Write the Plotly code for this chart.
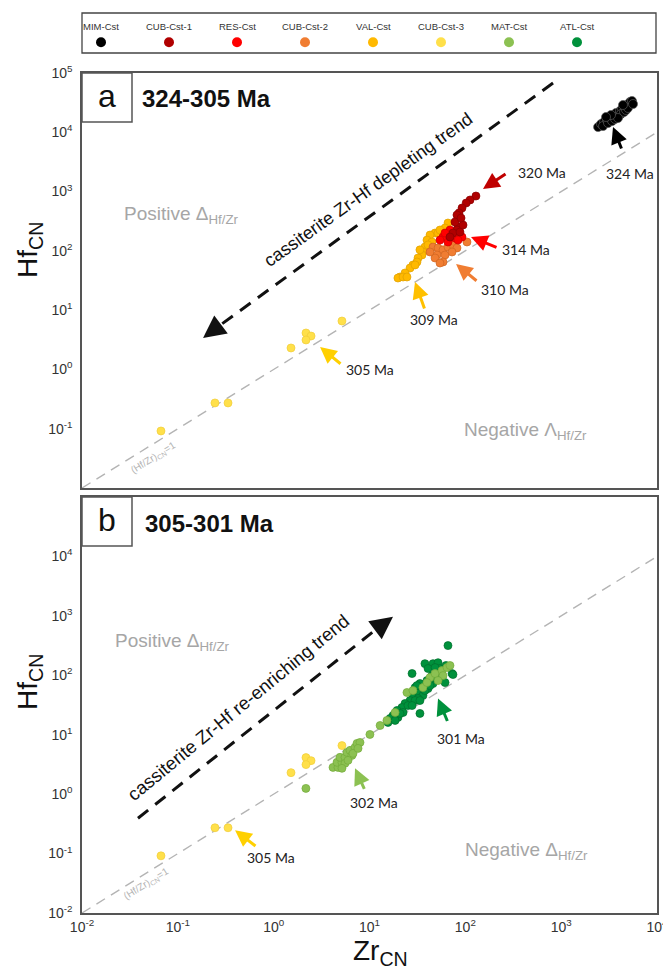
import plotly.graph_objects as go

W, H = 663, 973

# ---------------- data ----------------
series_names = ["MIM-Cst", "CUB-Cst-1", "RES-Cst", "CUB-Cst-2", "VAL-Cst", "CUB-Cst-3", "MAT-Cst", "ATL-Cst"]
series_colors = ["#000000", "#B00000", "#FF0000", "#F07D32", "#FFB900", "#FFE04A", "#8CC152", "#00913C"]
series_edges = ["#5A5A5A", "#8A0000", "#D00000", "#D06420", "#E0A000", "#F0CD3A", "#72AA3A", "#006E2C"]

mim_zr = [2427, 2606, 2800, 2735, 3006, 3236, 3083, 3396, 3557, 3733, 3648, 4018, 4111, 4315,
          4207, 4529, 4634, 4864, 4753, 5105, 5224, 5483, 4977, 3917, 3311, 2938, 5623, 4416]
mim_hf = [12270, 13800, 14930, 12760, 16110, 17410, 14350, 15490, 18830, 21150, 16750, 19580, 22860, 24720,
          20340, 21980, 26730, 28840, 23770, 29990, 32430, 33730, 25700, 17410, 19580, 18110, 29990, 28840]

cub1_zr = [129, 112, 102, 92.3, 85.9, 81.8, 83.9, 81.8, 74.3, 87.9, 69.2, 94.6, 78.0, 90.2]
cub1_hf = [841, 721, 641, 528, 436, 403, 253, 225, 200, 208, 171, 273, 307, 358]

res_zr = [72.6, 64.4, 58.5, 78.0, 92.3, 65.9, 54.4, 83.9, 69.2, 61.4]
res_hf = [185, 165, 171, 165, 171, 141, 152, 152, 225, 200]

cub2_zr = [46.0, 51.9, 58.5, 65.9, 74.3, 81.8, 50.6, 61.4, 72.6, 48.3, 58.5, 54.4, 104, 42.8]
cub2_hf = [116, 112, 104, 116, 126, 112, 85.2, 85.2, 95.7, 75.8, 64.9, 62.4, 141, 95.7]

val_zr = [65.9, 61.4, 48.3, 42.8, 51.9, 39.8, 44.9, 37.9, 36.1, 35.3, 32.1, 31.3, 28.4, 26.5,
          23.5, 20.8, 19.8, 22.4, 24.6, 29.9, 54.4, 40.8, 33.6]
val_hf = [295, 243, 200, 185, 200, 152, 141, 116, 95.7, 85.2, 75.8, 64.9, 57.8, 51.4,
          42.4, 36.2, 34.8, 36.2, 36.2, 57.8, 225, 126, 104]

cub3_zr = [0.0667, 0.244, 0.334, 1.517, 2.174, 2.455, 2.174, 5.16]
cub3_hf = [0.0916, 0.272, 0.272, 2.30, 4.12, 3.66, 3.14, 6.56]

mat_zr = [2.17, 4.16, 4.69, 4.58, 5.16, 4.92, 5.55, 5.82, 6.26, 6.56, 7.06, 7.41, 7.96, 5.55, 5.16, 5.97,
          6.73, 7.59, 10.1, 15.2, 12.9, 18.5, 24.6, 28.4, 36.1, 42.8, 48.3, 57.1, 64.4, 69.2, 58.5, 51.9, 39.8]
mat_hf = [1.25, 2.82, 2.82, 3.43, 3.43, 4.16, 4.16, 5.04, 5.45, 4.49, 6.11, 7.14, 7.41, 3.30, 2.72, 3.70,
          4.85, 5.89, 10.1, 17.4, 14.3, 23.7, 51.3, 55.4, 62.2, 91.6, 107, 120, 135, 146, 98.9, 81.5, 75.5]

atl_zr = [65.9, 37.9, 46.0, 51.9, 40.8, 50.6, 27.8, 44.9, 39.8, 33.6, 29.9, 36.1, 32.1, 28.4, 26.5, 23.5,
          21.8, 19.4, 22.4, 17.6, 19.8, 16.4, 15.6, 33.6, 31.3, 57.1, 46.0, 40.8, 36.1, 32.1, 72.6, 61.4,
          54.4, 48.3, 74.3, 25.2, 20.8, 29.9, 37.9, 42.8, 49.4, 55.7, 62.8, 33.6, 27.8, 18.5]
atl_hf = [316, 157, 157, 163, 130, 111, 107, 98.9, 81.5, 72.6, 62.2, 55.4, 49.3, 42.3, 37.6, 33.5,
          28.7, 25.6, 23.7, 21.1, 19.5, 18.8, 16.1, 22.8, 67.1, 91.6, 72.6, 59.8, 45.6, 40.6, 107, 75.5,
          130, 135, 103, 31.0, 22.8, 37.6, 55.4, 67.1, 88.1, 111, 146, 37.6, 31.0, 17.4]

ref_line = [0.01, 10000]  # (Hf/Zr)CN = 1

tick_vals = [0.01, 0.1, 1, 10, 100, 1000, 10000, 100000]
tick_text = ["10<sup>-2</sup>", "10<sup>-1</sup>", "10<sup>0</sup>", "10<sup>1</sup>", "10<sup>2</sup>",
             "10<sup>3</sup>", "10<sup>4</sup>", "10<sup>5</sup>"]

# age labels: (text, log10 Zr, log10 Hf, tail x, tail y, tip x, tip y, colour)
ages_a = [
    ("324 Ma", 3.718, 3.313, 3.635, 3.701, 3.541, 4.089, "#000000"),
    ("320 Ma", 2.800, 3.330, 2.435, 3.313, 2.184, 3.044, "#C00000"),
    ("314 Ma", 2.633, 2.015, 2.341, 2.048, 2.059, 2.234, "#FF0000"),
    ("310 Ma", 2.414, 1.340, 2.132, 1.475, 1.903, 1.779, "#F07D32"),
    ("309 Ma", 1.673, 0.834, 1.579, 1.003, 1.475, 1.475, "#FFC000"),
    ("305 Ma", 1.005, -0.009, 0.713, 0.075, 0.484, 0.379, "#FFD000"),
]
ages_b = [
    ("301 Ma", 1.955, 0.938, 1.819, 1.206, 1.715, 1.609, "#00913C"),
    ("302 Ma", 1.047, -0.137, 0.953, 0.065, 0.849, 0.434, "#8CC152"),
    ("305 Ma", -0.028, -1.060, -0.174, -0.892, -0.403, -0.607, "#FFD000"),
]

FONT = "Liberation Sans, Arial, sans-serif"
GREY = "#A6A6A6"

def px_x(p):
    return p / W

def px_y(p):
    return 1 - p / H

fig = go.Figure()

def add_series(idx, zr, hf, xa, ya, size=8):
    fig.add_trace(go.Scatter(
        x=zr, y=hf, mode="markers", xaxis=xa, yaxis=ya, showlegend=False,
        marker=dict(size=size, color=series_colors[idx],
                    line=dict(color=series_edges[idx], width=0.7)),
        hoverinfo="x+y", name=series_names[idx]))

# reference lines
for xa, ya in (("x", "y"), ("x2", "y2")):
    fig.add_trace(go.Scatter(x=ref_line, y=ref_line, mode="lines", xaxis=xa, yaxis=ya,
                             showlegend=False, hoverinfo="skip",
                             line=dict(color="#B4B4B4", width=1.4, dash="10px,7px")))

# panel a
add_series(5, cub3_zr, cub3_hf, "x", "y")
add_series(4, val_zr, val_hf, "x", "y")
add_series(3, cub2_zr, cub2_hf, "x", "y")
add_series(2, res_zr, res_hf, "x", "y")
add_series(1, cub1_zr, cub1_hf, "x", "y")
add_series(0, mim_zr, mim_hf, "x", "y", size=9)
# panel b
add_series(5, cub3_zr, cub3_hf, "x2", "y2")
add_series(7, atl_zr, atl_hf, "x2", "y2")
add_series(6, mat_zr, mat_hf, "x2", "y2")

# legend as its own little axis
fig.add_trace(go.Scatter(
    x=list(range(len(series_names))), y=[0.27] * len(series_names),
    mode="markers", marker=dict(size=10, color=series_colors, line=dict(width=0)),
    xaxis="x3", yaxis="y3", showlegend=False, hoverinfo="skip"))

xdom = [px_x(82), px_x(657)]
ax_common = dict(type="log", showgrid=False, zeroline=False, showline=True, mirror=True, automargin=False,
                 linecolor="#555555", linewidth=1.5, ticks="", tickvals=tick_vals, ticktext=tick_text,
                 ticklabeloverflow="allow",
                 tickfont=dict(family=FONT, size=14, color="#333333"))

fig.update_layout(
    template="none", autosize=False,
    width=W, height=H, margin=dict(l=0, r=0, t=0, b=0, pad=0),
    paper_bgcolor="white", plot_bgcolor="white",
    xaxis=dict(ax_common, domain=xdom, range=[-2, 4], anchor="y", showticklabels=False),
    yaxis=dict(ax_common, domain=[px_y(488), px_y(73)], range=[-2, 5], anchor="x",
               ticklabelstandoff=5, tickvals=tick_vals[1:], ticktext=tick_text[1:]),
    xaxis2=dict(ax_common, domain=xdom, range=[-2, 4], anchor="y2", ticklabelstandoff=0,
                tickvals=tick_vals[:-1], ticktext=tick_text[:-1]),
    yaxis2=dict(ax_common, domain=[px_y(913), px_y(497)], range=[-2, 5], anchor="x2",
                ticklabelstandoff=5, tickvals=tick_vals[:-1], ticktext=tick_text[:-1]),
    xaxis3=dict(domain=[0, 1], range=[-101 / 68, (663 - 101) / 68], visible=False, fixedrange=True,
                automargin=False),
    yaxis3=dict(domain=[px_y(53), px_y(13)], range=[0, 1], visible=False, fixedrange=True,
                automargin=False),
)

shapes = []
annotations = []

# legend box + legend labels
shapes.append(dict(type="rect", xref="paper", yref="paper", x0=px_x(82), x1=px_x(656),
                   y0=px_y(53), y1=px_y(13), line=dict(color="#444444", width=1.3), layer="below"))
for i, name in enumerate(series_names):
    annotations.append(dict(xref="x3", yref="paper", x=i, y=px_y(27), text=name, showarrow=False,
                            xanchor="center", yanchor="middle",
                            font=dict(family=FONT, size=9.5, color="#333333")))

# panel label boxes
for top, letter, title, tx, ty in ((73, "a", "324-305 Ma", 140, 98), (497, "b", "305-301 Ma", 143, 523)):
    shapes.append(dict(type="rect", xref="paper", yref="paper", x0=px_x(82), x1=px_x(132),
                       y0=px_y(top + 49), y1=px_y(top), line=dict(color="#555555", width=1.5),
                       fillcolor="white"))
    annotations.append(dict(xref="paper", yref="paper", x=px_x(107), y=px_y(top + 23), text=letter,
                            showarrow=False, xanchor="center", yanchor="middle",
                            font=dict(family=FONT, size=32, color="#111111")))
    annotations.append(dict(xref="paper", yref="paper", x=px_x(tx), y=px_y(ty), text="<b>%s</b>" % title,
                            showarrow=False, xanchor="left", yanchor="middle",
                            font=dict(family=FONT, size=24, color="#111111")))

# trend arrows (positions in log10 units)
trend = [
    ("x", "y", (2.915, 4.831), (-0.570, 0.733), (-0.737, 0.530),
     "cassiterite Zr-Hf depleting trend", 0.985, 3.02, -35.5, 18),
    ("x2", "y2", (-1.416, -0.405), (1.078, 2.784), (1.245, 2.986),
     "cassiterite Zr-Hf re-enriching trend", -0.370, 1.455, -39.5, 18.5),
]
for xa, ya, p0, p1, tip, txt, tx, ty, ang, fs in trend:
    fig.add_trace(go.Scatter(x=[10 ** p0[0], 10 ** p1[0]], y=[10 ** p0[1], 10 ** p1[1]], mode="lines",
                             xaxis=xa, yaxis=ya, showlegend=False, hoverinfo="skip",
                             line=dict(color="#111111", width=3, dash="13px,9px")))
    annotations.append(dict(xref=xa, yref=ya, axref=xa, ayref=ya, x=tip[0], y=tip[1],
                            ax=p1[0], ay=p1[1], text="", showarrow=True, arrowhead=2,
                            arrowsize=1.5, arrowwidth=3, arrowcolor="#111111", standoff=0))
    annotations.append(dict(xref=xa, yref=ya, x=tx, y=ty, text=txt, showarrow=False, textangle=ang,
                            xanchor="center", yanchor="middle",
                            font=dict(family=FONT, size=fs, color="#111111")))

# age labels and arrows
for xa, ya, ages in (("x", "y", ages_a), ("x2", "y2", ages_b)):
    for txt, lx, ly, tx0, ty0, tx1, ty1, col in ages:
        annotations.append(dict(xref=xa, yref=ya, axref=xa, ayref=ya, x=tx1, y=ty1, ax=tx0, ay=ty0,
                                text="", showarrow=True, arrowhead=2, arrowsize=1.1, arrowwidth=3,
                                arrowcolor=col, standoff=0))
        annotations.append(dict(xref=xa, yref=ya, x=lx, y=ly, text=txt, showarrow=False,
                                xanchor="center", yanchor="middle",
                                font=dict(family="Lato, Open Sans, sans-serif", size=14, color="#222222")))

# region labels
region = [
    ("x", "y", "Positive \u0394<sub>Hf/Zr</sub>", -1.583, 2.60),
    ("x", "y", "Negative \u039b<sub>Hf/Zr</sub>", 1.965, -1.04),
    ("x2", "y2", "Positive \u0394<sub>Hf/Zr</sub>", -1.677, 2.56),
    ("x2", "y2", "Negative \u0394<sub>Hf/Zr</sub>", 1.976, -0.95),
]
for xa, ya, txt, x, y in region:
    annotations.append(dict(xref=xa, yref=ya, x=x, y=y, text=txt, showarrow=False, xanchor="left",
                            yanchor="middle", font=dict(family=FONT, size=19, color=GREY)))

# (Hf/Zr)CN = 1 labels
for xa, ya, x, y in (("x", "y", -1.259, -1.493), ("x2", "y2", -1.332, -1.513)):
    annotations.append(dict(xref=xa, yref=ya, x=x, y=y, text="(Hf/Zr)<sub>CN</sub>=1", showarrow=False,
                            textangle=-32, xanchor="center", yanchor="middle",
                            font=dict(family=FONT, size=10, color="#B4B4B4")))

# axis titles
for yc in (250, 682):
    annotations.append(dict(xref="paper", yref="paper", x=px_x(29), y=px_y(yc), text="Hf<sub>CN</sub>",
                            showarrow=False, textangle=-90, xanchor="center", yanchor="middle",
                            font=dict(family=FONT, size=28, color="#111111")))
annotations.append(dict(xref="paper", yref="paper", x=px_x(381), y=px_y(952), text="Zr<sub>CN</sub>",
                        showarrow=False, xanchor="center", yanchor="middle",
                        font=dict(family=FONT, size=28, color="#111111")))

fig.update_layout(shapes=shapes, annotations=annotations)
fig.write_html("out.html", config={"displayModeBar": False},
               post_script="document.body.style.margin='0';document.body.style.overflow='hidden';")
